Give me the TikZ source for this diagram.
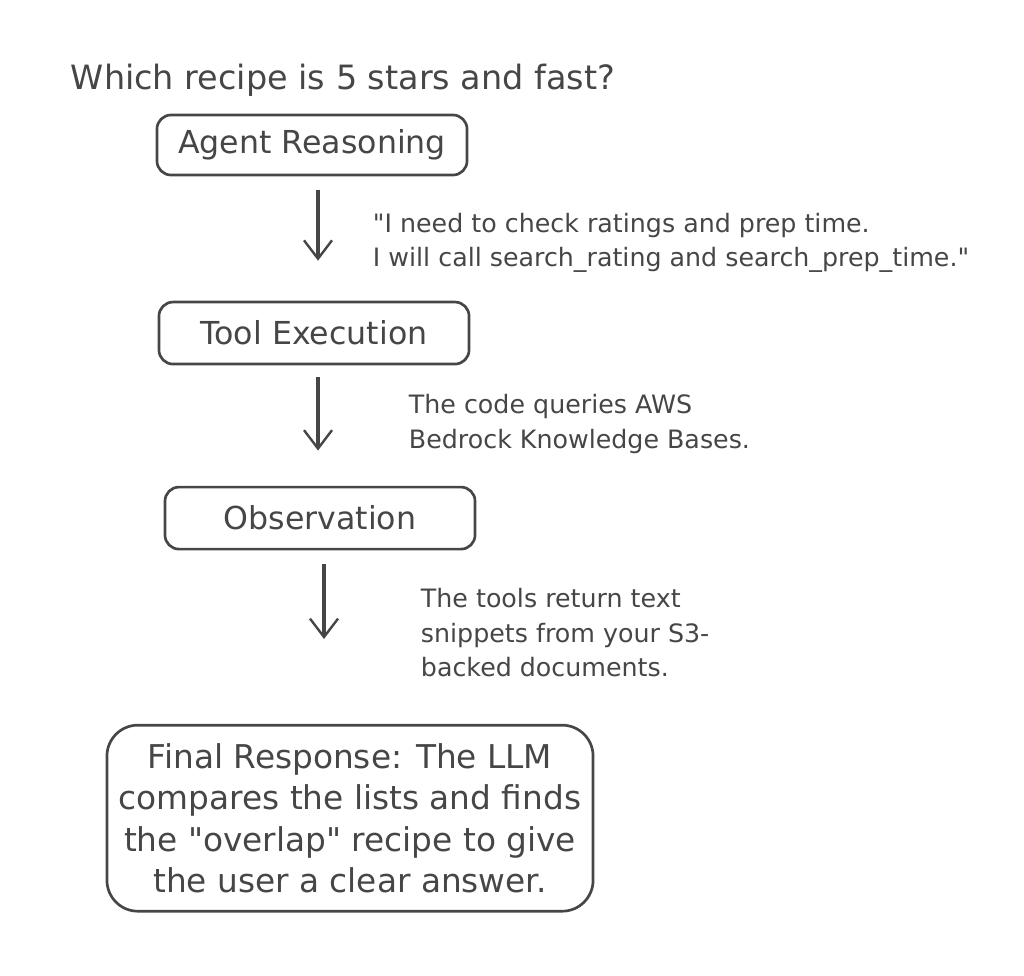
\documentclass[tikz,border=0pt]{standalone}
\usepackage{fontspec}
\setmainfont{DejaVu Sans}
\usepackage{tikz}
\usetikzlibrary{arrows.meta,positioning}
\definecolor{inkGray}{HTML}{464646}
\tikzset{%
	>={Straight Barb[length=4.6mm,width=7mm,line width=1.7pt]},
	% Specifications for style of nodes:
	base/.style = {rectangle, rounded corners=10pt, draw=inkGray,
		line width=1.9pt, text=inkGray, text centered},
	stepBox/.style = {base, minimum width=7.75cm, minimum height=1.5cm,
		font=\fontsize{22.5}{26}\selectfont},
	finalBox/.style = {base, rounded corners=22pt, minimum width=12.15cm,
		minimum height=4.65cm, align=center,
		font=\fontsize{23.3}{29.5}\selectfont},
	noteText/.style = {anchor=west, align=left, text=inkGray,
		font=\fontsize{18}{24.5}\selectfont},
	titleText/.style = {anchor=west, text=inkGray,
		font=\fontsize{23.8}{26}\selectfont},
	flowArrow/.style = {->, draw=inkGray, line width=2.3pt},
}

\begin{document}
\begin{tikzpicture}[x=0.025cm, y=-0.025cm, node distance=4.7cm]
\useasboundingbox (0,0) rectangle (1024,975);
%% Specification of nodes (position, etc.)
\node (question) [titleText] at (66,80) {Which recipe is 5 stars and fast?};

\node (agent)  [stepBox] at (312,145) {Agent Reasoning};
\node (tool)   [stepBox, below of=agent, xshift=0.05cm, minimum height=1.55cm] {Tool Execution};
\node (obs)    [stepBox, below of=tool, xshift=0.15cm, yshift=0.075cm, minimum height=1.55cm] {Observation};
\node (final)  [finalBox, below of=obs, xshift=0.75cm, yshift=-2.8cm]
	{Final Response: The LLM\\compares the lists and finds\\the \textquotedbl overlap\textquotedbl\ recipe to give\\the user a clear answer.};

\node (note1) [noteText] at (368,243) {\textquotedbl I need to check ratings and prep time.\\I will call search\_rating and search\_prep\_time.\textquotedbl};
\node (note2) [noteText] at (404,424) {The code queries AWS\\Bedrock Knowledge Bases.};
\node (note3) [noteText] at (416,633) {The tools return text\\snippets from your S3-\\backed documents.};

%% Specification of lines between nodes
\draw[flowArrow, shorten <=0.33cm, shorten >=1cm]
	([xshift=0.15cm]agent.south) -- ([xshift=0.15cm]agent.south |- tool.north);
\draw[flowArrow, shorten <=0.3cm, shorten >=0.88cm]
	([xshift=0.1cm]tool.south) -- ([xshift=0.1cm]tool.south |- obs.north);
\draw[flowArrow, shorten <=0.35cm, shorten >=2.12cm]
	([xshift=0.1cm]obs.south) -- ([xshift=0.1cm]obs.south |- final.north);
\end{tikzpicture}
\end{document}
